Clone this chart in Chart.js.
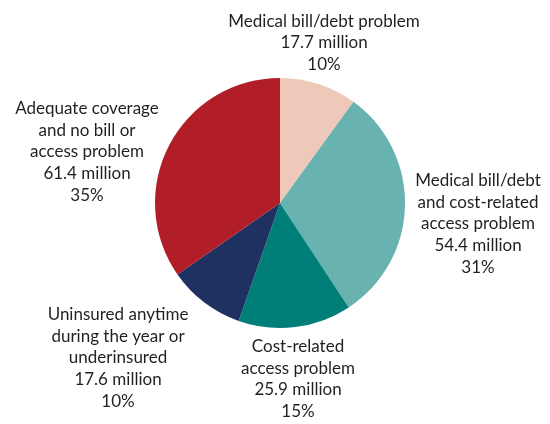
<!DOCTYPE html>
<html>
<head>
<meta charset="utf-8">
<script src="https://cdn.jsdelivr.net/npm/chart.js@4/dist/chart.umd.min.js"></script>
<style>
  body { margin: 0; background: #fff; }
  canvas { display: block; }
</style>
</head>
<body>
<canvas id="grafica" width="550" height="424"></canvas>
<script>
// datos
const categorias = [
    ['Medical bill/debt problem'],
    ['Medical bill/debt', 'and cost-related', 'access problem'],
    ['Cost-related', 'access problem'],
    ['Uninsured anytime', 'during the year or', 'underinsured'],
    ['Adequate coverage', 'and no bill or', 'access problem']
]
const millones = [17.7, 54.4, 25.9, 17.6, 61.4]
const porcentajes = ['10%', '31%', '15%', '10%', '35%']
const colores = ['#EEC9BA', '#68B2B0', '#007F78', '#1F3160', '#B21E28']

// posicion de cada etiqueta respecto al centro del pastel
const posEtiquetas = [[44, -160], [198, 21], [18, 176], [-162, 155], [-193, -51]]

const etiquetas = {
    id: 'etiquetas',
    afterDraw(chart) {
        const ctx = chart.ctx
        const arco = chart.getDatasetMeta(0).data[0]
        const cx = arco.x
        const cy = arco.y
        const alto = 21.7
        ctx.save()
        ctx.font = '17px Lato'
        ctx.fillStyle = '#231F20'
        ctx.textAlign = 'center'
        ctx.textBaseline = 'middle'
        categorias.forEach((cat, i) => {
            const lineas = [...cat, `${millones[i]} million`, porcentajes[i]]
            const x = cx + posEtiquetas[i][0]
            let y = cy + posEtiquetas[i][1] - (lineas.length - 1) / 2 * alto
            lineas.forEach((l) => {
                ctx.fillText(l, x, y)
                y += alto
            })
        })
        ctx.restore()
    }
}

new Chart(document.getElementById('grafica'), {
    type: 'pie',
    data: {
        labels: categorias.map((c) => c.join(' ')),
        datasets: [{
            data: millones,
            backgroundColor: colores,
            borderWidth: 0
        }]
    },
    options: {
        responsive: false,
        animation: false,
        layout: { padding: { top: 78, bottom: 96, left: 155, right: 145 } },
        plugins: {
            legend: { display: false },
            tooltip: { enabled: false }
        }
    },
    plugins: [etiquetas]
})
</script>
</body>
</html>
